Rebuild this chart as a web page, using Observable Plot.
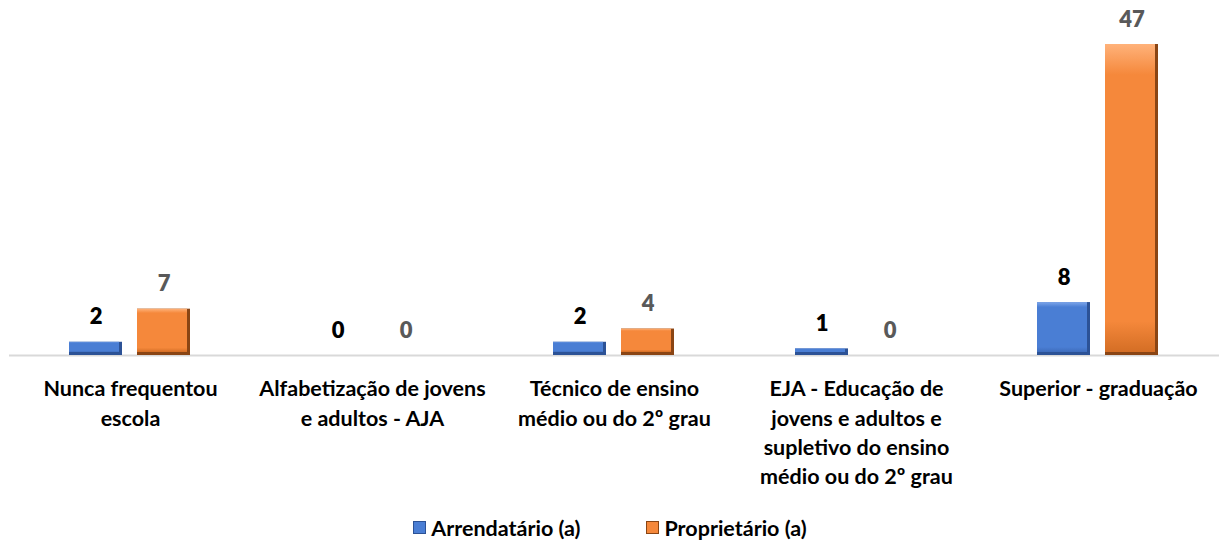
<!DOCTYPE html>
<html>
<head>
<meta charset="utf-8">
<script src="https://cdn.jsdelivr.net/npm/d3@7"></script>
<script src="https://cdn.jsdelivr.net/npm/@observablehq/plot@0.6"></script>
<style>
  html, body { margin: 0; padding: 0; background: #fff; }
  #chart { width: 1220px; height: 500px; }
  .legend { display: flex; justify-content: center; align-items: center; gap: 66px; height: 44px; padding-top: 11px; box-sizing: border-box;
    font-family: Lato, "Open Sans", sans-serif; font-weight: 700; font-size: 21.5px; color: #000; }
  .legend span.item { display: inline-flex; align-items: center; }
  .legend span.sw { display: inline-block; width: 13px; height: 13px; margin-right: 5px; }
</style>
</head>
<body>
<div id="chart"></div>
<script>
const categories = [
  "Nunca frequentou escola",
  "Alfabetização de jovens e adultos - AJA",
  "Técnico de ensino médio ou do 2º grau",
  "EJA - Educação de jovens e adultos e supletivo do ensino médio ou do 2º grau",
  "Superior - graduação"
];
const tickLabels = [
  "Nunca frequentou\nescola",
  "Alfabetização de jovens\ne adultos - AJA",
  "Técnico de ensino\nmédio ou do 2º grau",
  "EJA - Educação de\njovens e adultos e\nsupletivo do ensino\nmédio ou do 2º grau",
  "Superior - graduação"
];
const series = ["Arrendatário (a)", "Proprietário (a)"];
const arrendatario = [2, 0, 2, 1, 8];
const proprietario = [7, 0, 4, 0, 47];
const colors = ["#4a7ed4", "#f5883b"];
const darkColors = ["#2c5296", "#8a4514"];
const labelColors = ["#000000", "#595959"];

const data = [];
categories.forEach((c, i) => {
  data.push({category: c, series: series[0], value: arrendatario[i]});
  data.push({category: c, series: series[1], value: proprietario[i]});
});
const labelOf = new Map(categories.map((c, i) => [c, tickLabels[i]]));
const font = "Lato, 'Open Sans', sans-serif";

const chart = Plot.plot({
  width: 1220,
  height: 500,
  marginTop: 44,
  marginBottom: 145,
  marginLeft: 7,
  marginRight: 0,
  style: {fontFamily: font, background: "#fff"},
  fx: {domain: categories, padding: 0},
  x: {domain: series, paddingInner: 0.217, paddingOuter: 0.867, axis: null},
  y: {domain: [0, 47], axis: null},
  color: {domain: series, range: darkColors},
  marks: [
    Plot.ruleY([0], {stroke: "#d9d9d9", strokeWidth: 2}),
    Plot.barY(data, {fx: "category", x: "series", y: "value", fill: "series"}),
    Plot.barY(data.filter(d => d.series === series[0]), {fx: "category", x: "series", y: "value", fill: "url(#gBlue)", insetRight: 3, insetBottom: 3}),
    Plot.barY(data.filter(d => d.series === series[1]), {fx: "category", x: "series", y: "value", fill: "url(#gOrange)", insetRight: 3, insetBottom: 3}),
    Plot.text(data.filter(d => d.series === series[0]), {fx: "category", x: "series", y: "value", text: d => String(d.value), dy: -25, fill: labelColors[0], fontSize: 22, fontWeight: 800}),
    Plot.text(data.filter(d => d.series === series[1]), {fx: "category", x: "series", y: "value", text: d => String(d.value), dy: -25, fill: labelColors[1], fontSize: 22, fontWeight: 800}),
    Plot.axisFx({anchor: "bottom", tickSize: 0, tickPadding: 20, tickFormat: d => labelOf.get(d), fontSize: 21.5, fontWeight: 700, lineHeight: 1.36, fill: "#000", label: null})
  ]
});

const defs = d3.create("svg:defs");
function grad(id, light, main, dark) {
  const g = defs.append("linearGradient").attr("id", id).attr("x1", 0).attr("y1", 0).attr("x2", 0).attr("y2", 1);
  g.append("stop").attr("offset", "0%").attr("stop-color", light);
  g.append("stop").attr("offset", "10%").attr("stop-color", main);
  g.append("stop").attr("offset", "90%").attr("stop-color", main);
  g.append("stop").attr("offset", "100%").attr("stop-color", dark);
}
grad("gBlue", "#7ea6ea", colors[0], "#3e6cbc");
grad("gOrange", "#ffb27a", colors[1], "#d46e25");
chart.insertBefore(defs.node(), chart.firstChild);
document.getElementById("chart").appendChild(chart);

const legend = d3.select("body").append("div").attr("class", "legend");
series.forEach((s, i) => {
  const it = legend.append("span").attr("class", "item");
  it.append("span").attr("class", "sw").style("background", colors[i]).style("border", "1px solid " + darkColors[i]).style("box-sizing", "border-box");
  it.append("span").text(s);
});
</script>
</body>
</html>
